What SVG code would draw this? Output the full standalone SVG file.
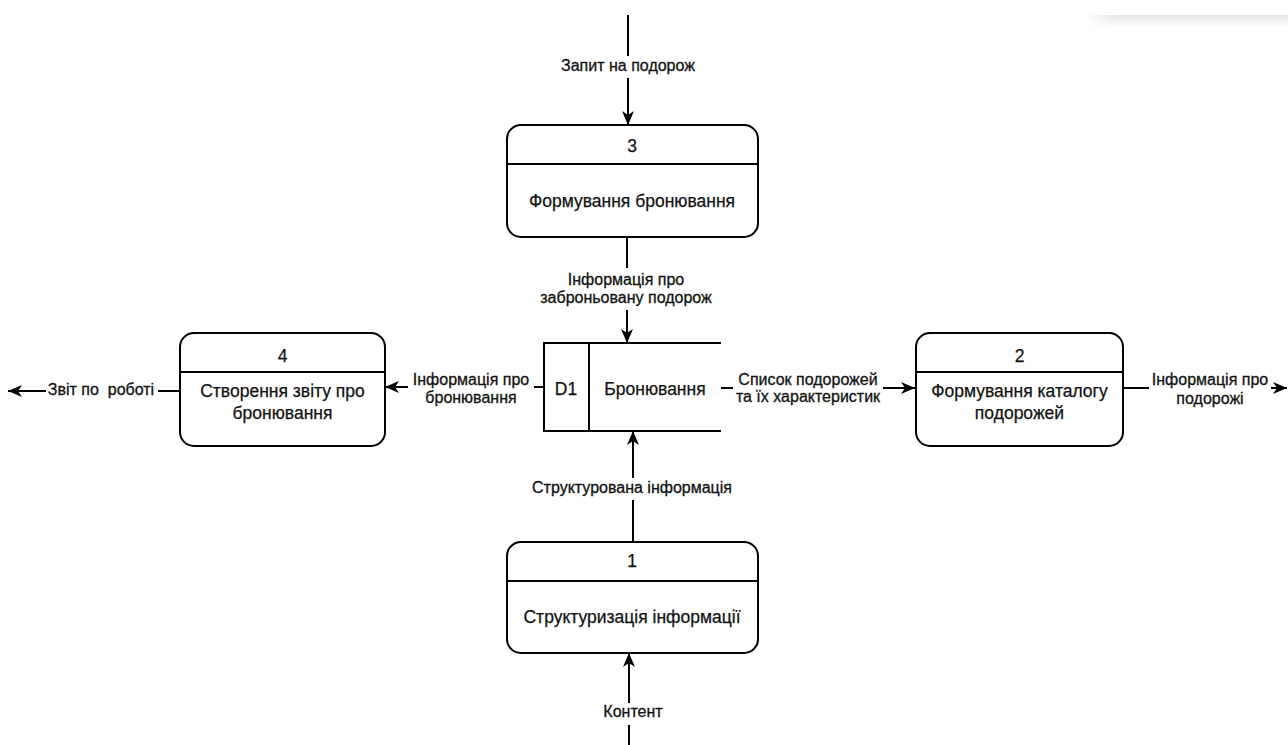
<svg xmlns="http://www.w3.org/2000/svg" width="1288" height="745" viewBox="0 0 1288 745">
  <style>
    .box { fill: #ffffff; stroke: #000000; stroke-width: 2; }
    .div { stroke: #000000; stroke-width: 2; fill: none; }
    .conn { stroke: #000000; stroke-width: 2; fill: none; marker-end: url(#arr); }
    .lbg { fill: #ffffff; stroke: none; }
    .ntxt { font-family: "Liberation Sans", Arial, sans-serif; font-size: 17.5px; fill: #111111; stroke: #111111; stroke-width: 0.25px; text-anchor: middle; }
    .ltxt { font-family: "Liberation Sans", Arial, sans-serif; font-size: 16px; fill: #111111; stroke: #111111; stroke-width: 0.3px; text-anchor: middle; }
  </style>
  <defs>
    <marker id="arr" markerUnits="userSpaceOnUse" markerWidth="16" markerHeight="12" refX="14" refY="6" orient="auto">
      <path d="M0,0 L14,6 L0,12 L4,6 Z" fill="#000000"/>
    </marker>
    <linearGradient id="shadow" x1="0" y1="0" x2="0" y2="1">
      <stop offset="0" stop-color="#e4e4e4"/>
      <stop offset="1" stop-color="#ffffff"/>
    </linearGradient>
    <linearGradient id="shadowX" x1="0" y1="0" x2="1" y2="0">
      <stop offset="0" stop-color="#ffffff" stop-opacity="1"/>
      <stop offset="0.15" stop-color="#ffffff" stop-opacity="0"/>
    </linearGradient>
  </defs>
  <rect width="1288" height="745" fill="#ffffff"/>
  <rect x="1086" y="15" width="202" height="13" fill="url(#shadow)"/>
  <rect x="1086" y="15" width="202" height="13" fill="url(#shadowX)"/>

  <g id="connectors">
    <path class="conn" d="M628,15 V125"/>
    <rect class="lbg" x="553" y="56" width="150" height="22"/>
    <text class="ltxt" x="628" y="71">Запит на подорож</text>

    <path class="conn" d="M627,237 V343"/>
    <rect class="lbg" x="533" y="268" width="186" height="42"/>
    <text class="ltxt" x="626" y="285">Інформація про</text>
    <text class="ltxt" x="626" y="303">заброньовану подорож</text>

    <path class="conn" d="M544,387 H385"/>
    <rect class="lbg" x="408" y="370" width="126" height="38"/>
    <text class="ltxt" x="471" y="385">Інформація про</text>
    <text class="ltxt" x="471" y="403">бронювання</text>

    <path class="conn" d="M180,391 H8"/>
    <rect class="lbg" x="46" y="379" width="112" height="20"/>
    <text class="ltxt" x="101" y="395" xml:space="preserve">Звіт по  роботі</text>

    <path class="conn" d="M721,388 H915"/>
    <rect class="lbg" x="733" y="370" width="150" height="38"/>
    <text class="ltxt" x="808" y="385">Список подорожей</text>
    <text class="ltxt" x="808" y="402">та їх характеристик</text>

    <path class="conn" d="M1123,388 H1287"/>
    <rect class="lbg" x="1149" y="370" width="122" height="40"/>
    <text class="ltxt" x="1210" y="385">Інформація про</text>
    <text class="ltxt" x="1210" y="404">подорожі</text>

    <path class="conn" d="M633,542 V431"/>
    <rect class="lbg" x="527" y="478" width="212" height="22"/>
    <text class="ltxt" x="632" y="493">Структурована інформація</text>

    <path class="conn" d="M629,745 V653"/>
    <rect class="lbg" x="600" y="703" width="66" height="22"/>
    <text class="ltxt" x="633" y="717">Контент</text>
  </g>

  <g id="node3">
    <rect class="box" x="507" y="125" width="251" height="112" rx="14"/>
    <line class="div" x1="507" y1="164" x2="758" y2="164"/>
    <text class="ntxt" x="632" y="152">3</text>
    <text class="ntxt" x="632" y="207">Формування бронювання</text>
  </g>

  <g id="node4">
    <rect class="box" x="180" y="333" width="205" height="113" rx="14"/>
    <line class="div" x1="180" y1="372" x2="385" y2="372"/>
    <text class="ntxt" x="282.5" y="362">4</text>
    <text class="ntxt" x="282.5" y="397">Створення звіту про</text>
    <text class="ntxt" x="282.5" y="419">бронювання</text>
  </g>

  <g id="node2">
    <rect class="box" x="916" y="333" width="207" height="113" rx="14"/>
    <line class="div" x1="916" y1="372" x2="1123" y2="372"/>
    <text class="ntxt" x="1019.5" y="362">2</text>
    <text class="ntxt" x="1019.5" y="397">Формування каталогу</text>
    <text class="ntxt" x="1019.5" y="419">подорожей</text>
  </g>

  <g id="node1">
    <rect class="box" x="507" y="542" width="251" height="111" rx="14"/>
    <line class="div" x1="507" y1="581" x2="758" y2="581"/>
    <text class="ntxt" x="632" y="567">1</text>
    <text class="ntxt" x="632" y="623">Структуризація інформації</text>
  </g>

  <g id="storeD1">
    <rect x="544" y="343" width="177" height="88" fill="#ffffff"/>
    <path class="div" d="M721,343 H544 V431 H721"/>
    <line class="div" x1="589" y1="343" x2="589" y2="431"/>
    <text class="ntxt" x="566" y="395">D1</text>
    <text class="ntxt" x="655" y="395">Бронювання</text>
  </g>
</svg>
